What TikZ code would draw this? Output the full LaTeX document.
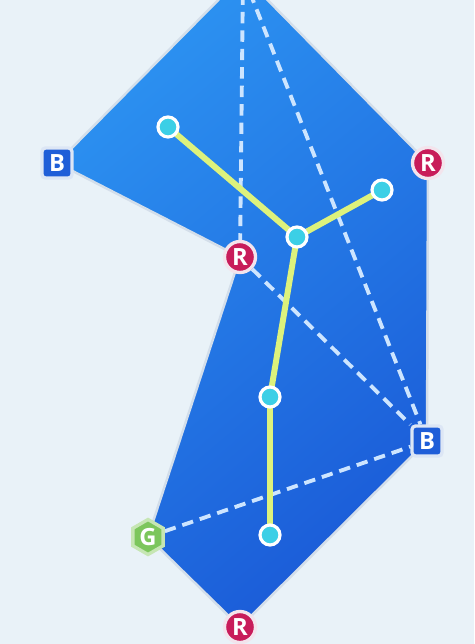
\documentclass[tikz,border=0pt]{standalone}
\usepackage{fontspec}
\newfontfamily\tagfont{Open Sans}
\usetikzlibrary{shapes.geometric, backgrounds}

\definecolor{paper}{HTML}{E9F2F8}
\definecolor{hulltop}{HTML}{2C92F1}
\definecolor{hullbot}{HTML}{1B5CD8}
\definecolor{hullrim}{HTML}{D3DEEA}
\definecolor{hintblue}{HTML}{CDE5FF}
\definecolor{bonecol}{HTML}{DDF27C}
\definecolor{jointcol}{HTML}{3CCFE6}
\definecolor{tagred}{HTML}{C81C5A}
\definecolor{redrim}{HTML}{F3E4EC}
\definecolor{tagblue}{HTML}{1F5ED8}
\definecolor{bluerim}{HTML}{DCE6F5}
\definecolor{taggreen}{HTML}{7CC65C}
\definecolor{greenrim}{HTML}{C6E6B4}

\begin{document}
\begin{tikzpicture}[
x=0.02cm, y=-0.02cm,
tag/.style={text=white, font=\tagfont\bfseries\fontsize{13.5}{13.5}\selectfont,
    inner sep=0pt, line width=1.9pt},
tag-r/.style={tag, circle, fill=tagred, draw=redrim, minimum size=0.62cm},
tag-b/.style={tag, rectangle, rounded corners=2pt, fill=tagblue, draw=bluerim,
    minimum size=0.6cm},
tag-g/.style={tag, regular polygon, regular polygon sides=6,
    shape border rotate=30, fill=taggreen, draw=greenrim, minimum size=0.7cm},
joint/.style={circle, fill=jointcol, draw=white, line width=1.8pt,
    minimum size=0.4cm, inner sep=0pt},
bone/.style={draw=bonecol, line width=3.4pt},
hint/.style={draw=hintblue, line width=2.2pt, dash pattern=on 6.5pt off 4pt},
hull/.style={draw=hullrim, line width=1.4pt, top color=hulltop,
    bottom color=hullbot, shading angle=40}
]
\useasboundingbox (0,0) rectangle (474,644);

% hull corners
\coordinate (apex) at (243,-25);
\node [tag-b] (b-left) at (57,163) {B};
\node [tag-r] (r-right) at (428,163) {R};
\node [tag-r] (r-mid) at (240,257) {R};
\node [tag-b] (b-right) at (427,441) {B};
\node [tag-g] (g-low) at (148,537) {G};
\node [tag-r] (r-low) at (240,627) {R};

% skeleton
\node [joint] (j-arm-l) at (168,127) {};
\node [joint] (j-hub) at (297,237) {};
\node [joint] (j-arm-r) at (382,190) {};
\node [joint] (j-hip) at (270,397) {};
\node [joint] (j-foot) at (270,535) {};

\begin{scope}[on background layer]
\fill [paper] (0,0) rectangle (474,644);
\clip (0,0) rectangle (474,644);
\path [hull] (apex) -- (r-right.center) -- (b-right.center) -- (r-low.center)
    -- (g-low.center) -- (r-mid.center) -- (b-left.center) -- cycle;
\path [hint] (apex) -- (r-mid);
\path [hint] (apex) -- (b-right);
\path [hint] (r-mid) -- (b-right);
\path [hint] (g-low) -- (b-right);
\path [bone] (j-arm-l.center) -- (j-hub.center) -- (j-arm-r.center);
\path [bone] (j-hub.center) -- (j-hip.center) -- (j-foot.center);
\end{scope}

\end{tikzpicture}
\end{document}
